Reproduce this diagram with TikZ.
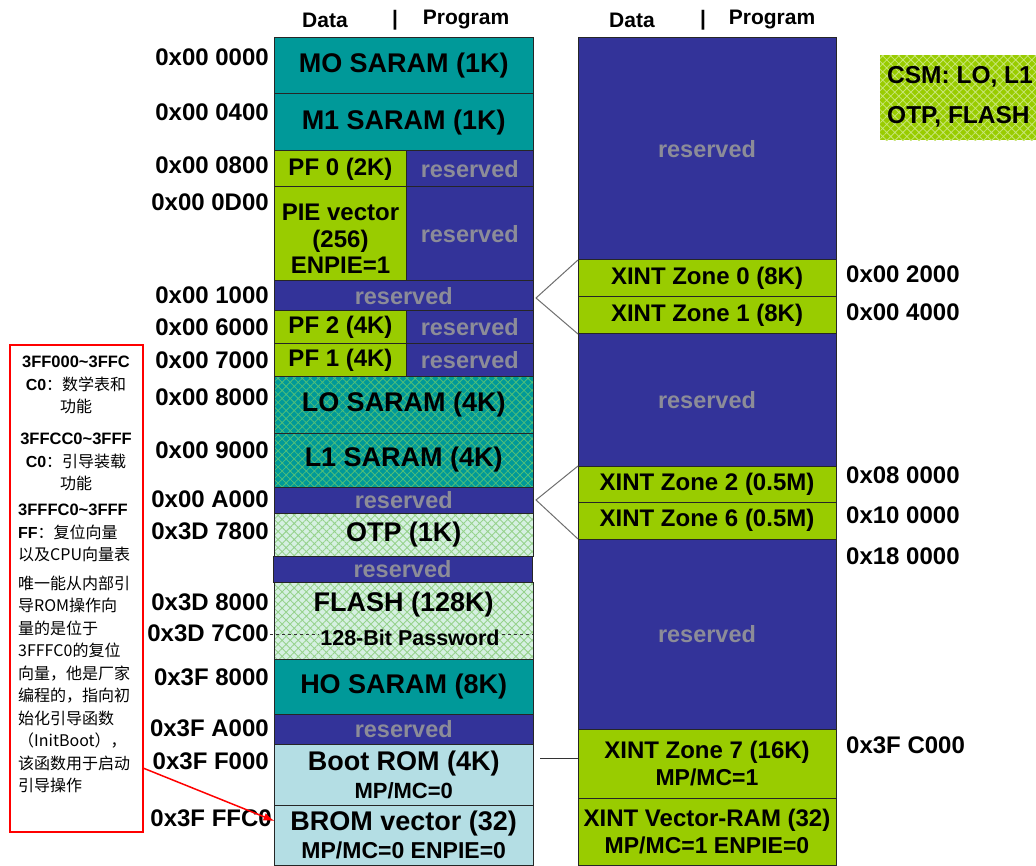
\documentclass[tikz,border=0pt]{standalone}
\usepackage{fontspec}
\setmainfont{Liberation Sans}
\newfontfamily\cjk{Noto Sans CJK SC}
\usetikzlibrary{arrows.meta,calc,patterns.meta}
\definecolor{SaramClr}{RGB}{0,153,153}
\definecolor{PfClr}{RGB}{153,204,0}
\definecolor{ResClr}{RGB}{51,51,153}
\definecolor{ResTxtClr}{RGB}{140,140,152}
\definecolor{BootClr}{RGB}{180,222,228}
\definecolor{LHatchClr}{RGB}{80,190,120}
\definecolor{OtpClr}{RGB}{214,240,226}
\definecolor{OHatchClr}{RGB}{150,210,140}
\definecolor{CsmHatchClr}{RGB}{200,230,120}
\definecolor{LinkClr}{RGB}{110,110,110}

\newcommand{\memcell}[7]{%
  \node[#1,minimum width=#5pt-#3pt,minimum height=#6pt-#4pt] (#2)
    at ({(#3+#5)/2},{(#4+#6)/2}) {#7};}

\tikzset{
  cell/.style={draw=black!85,line width=1pt,inner sep=0pt,outer sep=0pt,
    align=center,font=\bfseries\fontsize{24}{26.5}\selectfont},
  saram/.style={cell,fill=SaramClr,font=\bfseries\fontsize{27}{28}\selectfont},
  pf/.style={cell,fill=PfClr},
  resv/.style={cell,fill=ResClr,text=ResTxtClr,font=\bfseries\fontsize{23.5}{26}\selectfont},
  lhatch/.style={cell,font=\bfseries\fontsize{27}{28}\selectfont,preaction={fill=SaramClr},
    pattern={Hatch[angle=45,distance=5.7pt,line width=.8pt]},pattern color=LHatchClr},
  ohatch/.style={cell,font=\bfseries\fontsize{27}{28}\selectfont,preaction={fill=OtpClr},
    pattern={Hatch[angle=45,distance=5.7pt,line width=.9pt]},pattern color=OHatchClr},
  boot/.style={cell,fill=BootClr,font=\bfseries\fontsize{27}{28}\selectfont},
  xint/.style={cell,fill=PfClr},
  hdr/.style={font=\bfseries\fontsize{21}{24}\selectfont,inner sep=0pt},
  addr/.style={font=\bfseries\fontsize{24}{26}\selectfont,inner sep=0pt},
  notetxt/.style={font=\fontsize{16}{22.5}\selectfont,inner sep=0pt},
  link/.style={draw=LinkClr,line width=1pt}
}

\begin{document}
\begin{tikzpicture}[x=1pt,y=-1pt]
\useasboundingbox (0,0) rectangle (1036,866);

\node[hdr] (hdata1) at (325,20) {Data};
\node[hdr] (hbar1) at (395,20) {|};
\node[hdr] (hprog1) at (466,20) {Program};
\node[hdr] (hdata2) at (632,20) {Data};
\node[hdr] (hbar2) at (703,20) {|};
\node[hdr] (hprog2) at (772,20) {Program};

\memcell{saram}{m0}{274.5}{37.5}{533}{94}{MO SARAM (1K)}
\memcell{saram}{m1}{274.5}{94}{533}{151}{M1 SARAM (1K)}
\memcell{pf}{pf0}{274.5}{151}{406.5}{187}{PF 0 (2K)}
\memcell{resv}{pf0r}{406.5}{151}{533}{187}{reserved}
\memcell{pf}{pie}{274.5}{187}{406.5}{281}{\raisebox{0pt}[27pt]{PIE vector}\\(256)\\ENPIE=1}
\memcell{resv}{pier}{406.5}{187}{533}{281}{reserved}
\memcell{resv}{res1}{274.5}{281}{533}{311}{reserved}
\memcell{pf}{pf2}{274.5}{311}{406.5}{344}{PF 2 (4K)}
\memcell{resv}{pf2r}{406.5}{311}{533}{344}{reserved}
\memcell{pf}{pf1}{274.5}{344}{406.5}{377}{PF 1 (4K)}
\memcell{resv}{pf1r}{406.5}{344}{533}{377}{reserved}
\memcell{lhatch}{l0}{274.5}{377}{533}{433}{LO SARAM (4K)}
\memcell{lhatch}{l1}{274.5}{433}{533}{487}{L1 SARAM (4K)}
\memcell{resv}{res2}{274.5}{487}{533}{513}{reserved}
\memcell{ohatch}{otp}{274.5}{513}{533}{556}{OTP (1K)}
\memcell{resv}{res3}{273}{556}{532}{582}{reserved}
\memcell{ohatch}{flash}{274.5}{582}{533}{659}{}
\memcell{saram}{h0}{274.5}{659}{533}{714}{HO SARAM (8K)}
\memcell{resv}{res4}{274.5}{714}{533}{744}{reserved}
\memcell{boot}{boot}{274.5}{744}{533}{805}{Boot ROM (4K)\\{\fontsize{22}{24}\selectfont MP/MC=0}}
\memcell{boot}{brom}{274.5}{805}{533}{865}{\fontsize{27}{24}\selectfont BROM vector (32)\\{\fontsize{23}{24}\selectfont MP/MC=0 ENPIE=0}}

\node[font=\bfseries\fontsize{27}{28}\selectfont,inner sep=0pt] (flashtxt) at (403.75,605) {FLASH (128K)};
\node[font=\bfseries\fontsize{21.5}{22}\selectfont,inner sep=2pt] (pw) at (410,638) {128-Bit Password};
\coordinate (pwl) at (270,634);
\draw[dashed,black!80,line width=.8pt] (pwl) -- (pwl -| pw.west);
\draw[dashed,black!80,line width=.8pt] (pw.east |- pwl) -- (flash.east |- pwl);

\memcell{resv}{rres1}{578}{38}{836}{260}{reserved}
\memcell{xint}{z0}{578}{260}{836}{297}{XINT Zone 0 (8K)}
\memcell{xint}{z1}{578}{297}{836}{334}{XINT Zone 1 (8K)}
\memcell{resv}{rres2}{578}{334}{836}{466}{reserved}
\memcell{xint}{z2}{578}{466}{836}{502}{XINT Zone 2 (0.5M)}
\memcell{xint}{z6}{578}{502}{836}{539}{XINT Zone 6 (0.5M)}
\memcell{resv}{rres3}{578}{539}{836}{729}{reserved}
\memcell{xint}{z7}{578}{729}{836}{798}{\fontsize{24}{28}\selectfont XINT Zone 7 (16K)\\{\fontsize{23}{28}\selectfont MP/MC=1}}
\memcell{xint}{zv}{578}{798}{836}{865}{\fontsize{24}{30}\selectfont XINT Vector-RAM (32)\\{\fontsize{23}{30}\selectfont MP/MC=1 ENPIE=0}}

\coordinate (fork1) at (536,298);
\draw[link] (z0.north west) -- (fork1) -- (z1.south west);
\coordinate (fork2) at (536,500);
\draw[link] (z2.north west) -- (fork2) -- (z6.south west);
\coordinate (bootlink) at (540,758);
\draw[black!80,line width=1pt] (bootlink) -- (bootlink -| z7.west);

\node[addr,anchor=east] (ad0000) at (269,57) {0x00 0000};
\node[addr,anchor=east] (ad0400) at (269,112) {0x00 0400};
\node[addr,anchor=east] (ad0800) at (269,165) {0x00 0800};
\node[addr,anchor=east] (ad0D00) at (269,202) {0x00 0D00};
\node[addr,anchor=east] (ad1000) at (269,295) {0x00 1000};
\node[addr,anchor=east] (ad6000) at (269,327) {0x00 6000};
\node[addr,anchor=east] (ad7000) at (269,360) {0x00 7000};
\node[addr,anchor=east] (ad8000) at (269,397) {0x00 8000};
\node[addr,anchor=east] (ad9000) at (269,450) {0x00 9000};
\node[addr,anchor=east] (adA000) at (269,499) {0x00 A000};
\node[addr,anchor=east] (ad3D7800) at (269,531) {0x3D 7800};
\node[addr,anchor=east] (ad3D8000) at (269,602) {0x3D 8000};
\node[addr,anchor=east] (ad3D7C00) at (269,633) {0x3D 7C00};
\node[addr,anchor=east] (ad3F8000) at (269,677) {0x3F 8000};
\node[addr,anchor=east] (ad3FA000) at (269,728) {0x3F A000};
\node[addr,anchor=east] (ad3FF000) at (269,761) {0x3F F000};
\node[addr,anchor=east] (ad3FFFC0) at (272,818) {0x3F FFC0};

\node[addr,anchor=west] (ad002000) at (846,274) {0x00 2000};
\node[addr,anchor=west] (ad004000) at (846,312) {0x00 4000};
\node[addr,anchor=west] (ad080000) at (846,475) {0x08 0000};
\node[addr,anchor=west] (ad100000) at (846,515) {0x10 0000};
\node[addr,anchor=west] (ad180000) at (846,556) {0x18 0000};
\node[addr,anchor=west] (ad3FC000) at (846,745) {0x3F C000};

\begin{scope}
\clip (0,0) rectangle (1036,866);
\node[anchor=north west,minimum width=170pt,minimum height=85pt,inner sep=0pt,
  preaction={fill=PfClr},pattern={Hatch[angle=45,distance=5.7pt,line width=.8pt]},
  pattern color=CsmHatchClr] (csm) at (880,55) {};
\node[anchor=west,font=\bfseries\fontsize{24.5}{40}\selectfont,inner sep=0pt,align=left]
  (csmtxt) at (887,97) {CSM: LO, L1\\OTP, FLASH};
\end{scope}

\node[draw=red,line width=1.5pt,minimum width=133pt,minimum height=487pt,inner sep=0pt] (note) at (76.5,588.5) {};
\node[notetxt,align=center,anchor=north] (note1) at (76,356)
  {\textbf{\fontsize{16.5}{22.5}\selectfont 3FF000\textasciitilde3FFC}\\\textbf{C0}{\cjk ：数学表和}\\{\cjk 功能}};
\node[notetxt,align=center,anchor=north] (note2) at (76,433)
  {\textbf{\fontsize{16.5}{22.5}\selectfont 3FFCC0\textasciitilde3FFF}\\\textbf{C0}{\cjk ：引导装载}\\{\cjk 功能}};
\node[notetxt,align=left,anchor=north west] (note3) at (18,504)
  {\textbf{\fontsize{16.5}{22.5}\selectfont 3FFFC0\textasciitilde3FFF}\\\textbf{FF}{\cjk ：复位向量}\\{\cjk 以及CPU向量表}\\[6pt]
   {\cjk 唯一能从内部引}\\{\cjk 导ROM操作向}\\{\cjk 量的是位于}\\{\cjk 3FFFC0的复位}\\
   {\cjk 向量，他是厂家}\\{\cjk 编程的，指向初}\\{\cjk 始化引导函数}\\
   {\cjk （InitBoot），}\\{\cjk 该函数用于启动}\\{\cjk 引导操作}};
\coordinate (arrtail) at (143,768);
\draw[red,line width=1.5pt,-{Latex[length=11pt,width=8pt]}] (arrtail) -- ([yshift=14pt]brom.west);

\end{tikzpicture}
\end{document}
